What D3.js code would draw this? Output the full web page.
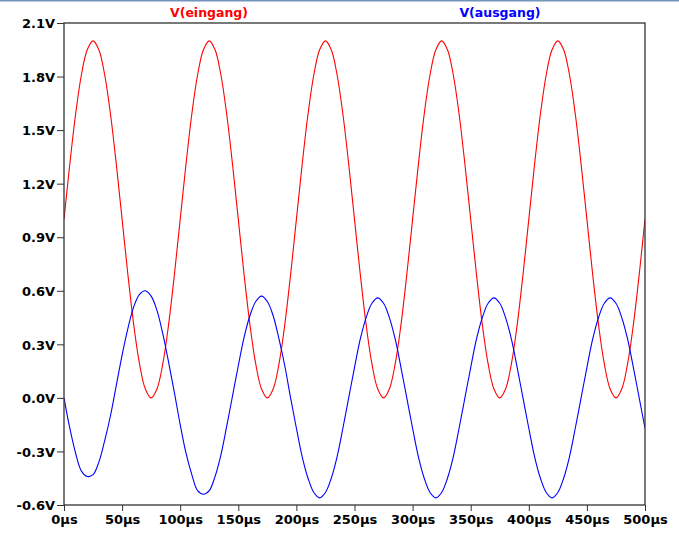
<!DOCTYPE html>
<html>
<head>
<meta charset="utf-8">
<script src="https://cdn.jsdelivr.net/npm/d3@7"></script>
<style>
  html, body { margin: 0; padding: 0; background: #fff; overflow: hidden; }
  .tickText { font-family: "DejaVu Sans", sans-serif; font-weight: bold; font-size: 13px; fill: #000; }
  .traceTitle { font-family: "DejaVu Sans", sans-serif; font-weight: bold; font-size: 12.5px; }
</style>
</head>
<body>
<div class="chart"></div>
<script>
// time axis (µs), sampled every 5 µs
var timeUs = d3.range(0, 501, 5);

// V(eingang)
var eingang = [
  1.00, 1.31, 1.59, 1.81, 1.95, 2.00, 1.95, 1.81, 1.59, 1.31, 1.00, 0.69, 0.41, 0.19, 0.05, 0.00, 0.05, 0.19, 0.41, 0.69,
  1.00, 1.31, 1.59, 1.81, 1.95, 2.00, 1.95, 1.81, 1.59, 1.31, 1.00, 0.69, 0.41, 0.19, 0.05, 0.00, 0.05, 0.19, 0.41, 0.69,
  1.00, 1.31, 1.59, 1.81, 1.95, 2.00, 1.95, 1.81, 1.59, 1.31, 1.00, 0.69, 0.41, 0.19, 0.05, 0.00, 0.05, 0.19, 0.41, 0.69,
  1.00, 1.31, 1.59, 1.81, 1.95, 2.00, 1.95, 1.81, 1.59, 1.31, 1.00, 0.69, 0.41, 0.19, 0.05, 0.00, 0.05, 0.19, 0.41, 0.69,
  1.00, 1.31, 1.59, 1.81, 1.95, 2.00, 1.95, 1.81, 1.59, 1.31, 1.00, 0.69, 0.41, 0.19, 0.05, 0.00, 0.05, 0.19, 0.41, 0.69,
  1.00
];

// V(ausgang)
var ausgang = [
  0.00, -0.17, -0.31, -0.41, -0.44, -0.43, -0.36, -0.24, -0.10, 0.07, 0.24, 0.39, 0.51, 0.58, 0.60, 0.57, 0.49, 0.36, 0.20, 0.03,
  -0.15, -0.31, -0.43, -0.52, -0.54, -0.52, -0.44, -0.32, -0.16, 0.01, 0.18, 0.34, 0.46, 0.54, 0.57, 0.54, 0.46, 0.33, 0.18, 0.00,
  -0.17, -0.33, -0.45, -0.53, -0.56, -0.53, -0.45, -0.33, -0.17, 0.00, 0.17, 0.33, 0.45, 0.53, 0.56, 0.53, 0.45, 0.33, 0.17, 0.00,
  -0.17, -0.33, -0.45, -0.53, -0.56, -0.53, -0.45, -0.33, -0.17, 0.00, 0.17, 0.33, 0.45, 0.53, 0.56, 0.53, 0.45, 0.33, 0.17, 0.00,
  -0.17, -0.33, -0.45, -0.53, -0.56, -0.53, -0.45, -0.33, -0.17, 0.00, 0.17, 0.33, 0.45, 0.53, 0.56, 0.53, 0.45, 0.33, 0.17, 0.00,
  -0.17
];

var yTicks = [-0.6, -0.3, 0.0, 0.3, 0.6, 0.9, 1.2, 1.5, 1.8, 2.1];
var xTicks = [0, 50, 100, 150, 200, 250, 300, 350, 400, 450, 500];

var traceNames = ["V(eingang)", "V(ausgang)"];

loadChart();

function loadChart() {
    var svgWidth = 679;
    var svgHeight = 535;

    var margin = { top: 23, right: 34, bottom: 30, left: 64 };
    var width = svgWidth - margin.left - margin.right;
    var height = svgHeight - margin.top - margin.bottom;

    var svg = d3.select(".chart")
        .append("svg")
        .attr("width", svgWidth)
        .attr("height", svgHeight)
        .style("display", "block");

    // window edge line at the very top
    svg.append("rect")
        .attr("x", 0)
        .attr("y", 0)
        .attr("width", svgWidth)
        .attr("height", 1.5)
        .attr("fill", "#7494bc");

    var chartGroup = svg.append("g")
        .attr("transform", `translate(${margin.left}, ${margin.top})`);

    var xScale = d3.scaleLinear()
        .domain([0, 500])
        .range([0, width]);

    var yScale = d3.scaleLinear()
        .domain([-0.6, 2.1])
        .range([height, 0]);

    var bottomAxis = d3.axisBottom(xScale)
        .tickValues(xTicks)
        .tickSize(6)
        .tickPadding(4)
        .tickFormat(d => d + "µs");

    var leftAxis = d3.axisLeft(yScale)
        .tickValues(yTicks)
        .tickSize(7)
        .tickPadding(2)
        .tickFormat(d => d.toFixed(1) + "V");

    var xAxisGroup = chartGroup.append("g")
        .attr("transform", `translate(0, ${height})`)
        .call(bottomAxis);

    var yAxisGroup = chartGroup.append("g")
        .call(leftAxis);

    [xAxisGroup, yAxisGroup].forEach(function (g) {
        g.select(".domain").remove();
        g.selectAll(".tick line").attr("stroke", "#333");
        g.selectAll(".tick text")
            .attr("class", "tickText")
            .attr("font-family", null)
            .attr("font-size", null);
    });
    xAxisGroup.selectAll(".tick text").attr("dy", "0.72em");
    yAxisGroup.selectAll(".tick text").attr("dy", "0.36em");

    chartGroup.append("clipPath")
        .attr("id", "plotClip")
        .append("rect")
        .attr("width", width)
        .attr("height", height);

    var lineGen = d3.line()
        .x(d => xScale(d[0]))
        .y(d => yScale(d[1]))
        .curve(d3.curveCatmullRom);

    var series = [
        { name: traceNames[0], values: eingang, color: "#ff0000" },
        { name: traceNames[1], values: ausgang, color: "#0000ff" }
    ];

    chartGroup.append("g")
        .attr("clip-path", "url(#plotClip)")
        .selectAll("path")
        .data(series)
        .enter()
        .append("path")
        .attr("fill", "none")
        .attr("stroke", d => d.color)
        .attr("stroke-width", 1.1)
        .attr("d", d => lineGen(timeUs.map((t, i) => [t, d.values[i]])));

    // plot frame
    chartGroup.append("rect")
        .attr("x", 0)
        .attr("y", 0)
        .attr("width", width)
        .attr("height", height)
        .attr("fill", "none")
        .attr("stroke", "#333")
        .attr("stroke-width", 1.3);

    // trace titles
    svg.selectAll(".traceTitle")
        .data(series)
        .enter()
        .append("text")
        .attr("class", "traceTitle")
        .attr("x", (d, i) => i === 0 ? 209 : 500)
        .attr("y", 17)
        .attr("text-anchor", "middle")
        .attr("fill", d => d.color)
        .text(d => d.name);
}
</script>
</body>
</html>
